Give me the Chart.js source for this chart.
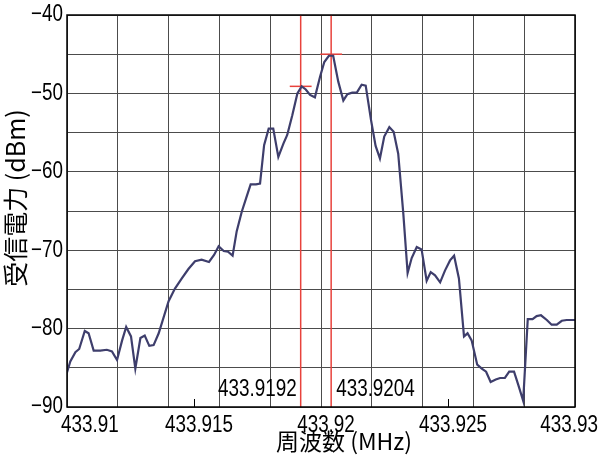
<!DOCTYPE html>
<html>
<head>
<meta charset="utf-8">
<script src="https://cdn.jsdelivr.net/npm/chart.js@4/dist/chart.umd.min.js"></script>
<style>
  html, body { margin: 0; padding: 0; background: #fff; }
  #c { display: block; }
</style>
</head>
<body>
<canvas id="c" width="601" height="459"></canvas>
<script>
// Received power spectrum around 433.92 MHz
const freqMHz = [
  433.91000, 433.91013, 433.91033, 433.91048, 433.91070, 433.91085, 433.91105, 433.91131,
  433.91157, 433.91177, 433.91197, 433.91217, 433.91233, 433.91252, 433.91269, 433.91289,
  433.91306, 433.91324, 433.91341, 433.91361, 433.91400, 433.91425, 433.91452, 433.91478,
  433.91504, 433.91530, 433.91559, 433.91579, 433.91597, 433.91617, 433.91634, 433.91652,
  433.91668, 433.91688, 433.91705, 433.91723, 433.91744, 433.91760, 433.91776, 433.91794,
  433.91812, 433.91832, 433.91852, 433.91867, 433.91887, 433.91907, 433.91924, 433.91940,
  433.91957, 433.91976, 433.91996, 433.92013, 433.92031, 433.92048, 433.92068, 433.92088,
  433.92104, 433.92123, 433.92141, 433.92160, 433.92176, 433.92197, 433.92215, 433.92232,
  433.92249, 433.92269, 433.92286, 433.92304, 433.92324, 433.92341, 433.92357, 433.92377,
  433.92396, 433.92416, 433.92432, 433.92449, 433.92469, 433.92488, 433.92508, 433.92524,
  433.92543, 433.92563, 433.92577, 433.92593, 433.92615, 433.92633, 433.92650, 433.92668,
  433.92688, 433.92705, 433.92724, 433.92741, 433.92760, 433.92777, 433.92796, 433.92814,
  433.92833, 433.92849, 433.92866, 433.92889, 433.92908, 433.92928, 433.92948, 433.92967,
  433.93000
];
const powerDbm = [
  -85.6, -84.2, -83.0, -82.6, -80.3, -80.6, -82.8, -82.8,
  -82.7, -82.9, -84.0, -81.5, -79.8, -81.0, -85.1, -81.2,
  -80.9, -82.2, -82.1, -80.6, -76.5, -74.9, -73.6, -72.4,
  -71.4, -71.2, -71.5, -70.6, -69.5, -70.1, -70.2, -70.7,
  -67.6, -65.1, -63.4, -61.6, -61.6, -61.5, -56.6, -54.5,
  -54.5, -58.1, -56.4, -55.3, -52.8, -50.0, -49.1, -49.5,
  -50.2, -50.5, -47.9, -46.0, -45.2, -45.2, -48.5, -50.9,
  -50.1, -49.9, -49.9, -48.9, -49.0, -53.4, -56.7, -58.3,
  -55.5, -54.3, -54.9, -57.7, -65.3, -72.9, -71.0, -69.6,
  -69.9, -73.9, -72.8, -73.2, -74.1, -72.6, -71.3, -70.7,
  -73.6, -81.0, -80.6, -81.5, -84.6, -85.1, -85.5, -86.8,
  -86.5, -86.3, -86.3, -85.5, -85.5, -87.2, -89.2, -78.8,
  -78.8, -78.4, -78.3, -78.9, -79.5, -79.5, -79.0, -78.9,
  -78.9
];

// Marker frequencies and the levels where they sit
const markerFreqs = [433.9192, 433.9204];
const markerLevels = [-49.1, -45.0];

// Axis ranges and labelled ticks
const xTickValues = [433.91, 433.915, 433.92, 433.925, 433.93];
const yTickValues = [-90, -80, -70, -60, -50, -40];
const X_MIN = 433.91, X_MAX = 433.93;
const Y_MIN = -90, Y_MAX = -40;

const xTitle = '周波数 (MHz)';
const yTitle = '受信電力 (dBm)';

const NUM_FONT = '"Liberation Sans", Arial, sans-serif';
const NARROW = 0.82; // horizontal squeeze for the condensed numeric face
const CJK_FONT = '"Noto Sans CJK JP", "Noto Sans", sans-serif';
const GRID = '#4c4c4c';
const RED = '#e8423c';
const MARKER_HALF = 0.00043; // half width of marker cross-bar, MHz

const curve = freqMHz.map((f, i) => ({ x: f, y: powerDbm[i] }));

const markerSets = [];
markerFreqs.forEach((f, i) => {
  markerSets.push({
    data: [{ x: f, y: Y_MIN }, { x: f, y: Y_MAX }],
    borderColor: RED, borderWidth: 1.5, pointRadius: 0, order: 1
  });
  markerSets.push({
    data: [{ x: f - MARKER_HALF, y: markerLevels[i] }, { x: f + MARKER_HALF, y: markerLevels[i] }],
    borderColor: RED, borderWidth: 1.5, pointRadius: 0, order: 1
  });
});

// Condensed numeric text: left edge is computed from the requested alignment
function narrowText(ctx, text, x, y, align, size) {
  ctx.save();
  ctx.font = size + 'px ' + NUM_FONT;
  ctx.textAlign = 'left';
  ctx.textBaseline = 'middle';
  const w = ctx.measureText(text).width * NARROW;
  let left = x;
  if (align === 'right') left = x - w;
  else if (align === 'center') left = x - w / 2;
  ctx.translate(left, y);
  ctx.scale(NARROW, 1);
  ctx.fillText(text, 0, 0);
  ctx.restore();
  return w;
}

// Frame, tick labels, marker labels and axis titles
const decorations = {
  id: 'decorations',
  afterDraw(chart) {
    const { ctx, chartArea: a } = chart;
    const xs = chart.scales.x;
    const ys = chart.scales.y;
    ctx.save();
    ctx.strokeStyle = '#000';
    ctx.lineWidth = 1.5;
    ctx.strokeRect(a.left, a.top, a.right - a.left, a.bottom - a.top);
    ctx.fillStyle = '#000';

    // x tick labels, kept inside the figure
    ctx.font = '23px ' + NUM_FONT;
    xs.ticks.forEach(t => {
      const label = String(Number(t.value.toFixed(3)));
      const w = ctx.measureText(label).width * NARROW;
      let left = xs.getPixelForValue(t.value) + 5 - w / 2;
      if (left < 61) left = 61;
      if (left + w > 598) left = 598 - w;
      narrowText(ctx, label, left, a.bottom + 19, 'left', 23);
    });

    // y tick labels
    yTickValues.forEach(v => {
      narrowText(ctx, '\u2212' + Math.abs(v), a.left - 4, ys.getPixelForValue(v), 'right', 23);
    });

    // marker frequency labels
    markerFreqs.forEach((f, i) => {
      const px = xs.getPixelForValue(f);
      const label = f.toFixed(4);
      if (i === 0) narrowText(ctx, label, px - 4, a.bottom - 17, 'right', 23);
      else narrowText(ctx, label, px + 5, a.bottom - 17, 'left', 23);
    });

    // axis titles
    ctx.font = '23px ' + CJK_FONT;
    ctx.textAlign = 'center';
    ctx.textBaseline = 'middle';
    ctx.fillText(xTitle, 344, 441);
    ctx.translate(15, 198);
    ctx.rotate(-Math.PI / 2);
    ctx.font = '25px ' + CJK_FONT;
    ctx.fillText(yTitle, 0, 0);
    ctx.restore();
  }
};

new Chart(document.getElementById('c'), {
  type: 'line',
  data: {
    datasets: [
      {
        data: curve, borderColor: '#3e3e6c', borderWidth: 2.2,
        pointRadius: 0, tension: 0, order: 0
      },
      ...markerSets
    ]
  },
  options: {
    responsive: false,
    animation: false,
    devicePixelRatio: 1,
    layout: { padding: { left: 0, top: 15, right: 26, bottom: 0 } },
    plugins: { legend: { display: false }, tooltip: { enabled: false } },
    scales: {
      x: {
        type: 'linear', position: 'bottom', min: X_MIN, max: X_MAX,
        afterBuildTicks: s => { s.ticks = xTickValues.map(v => ({ value: v })); },
        afterFit: s => { s.height = 52; s.paddingLeft = 0; s.paddingRight = 0; },
        ticks: { display: false },
        grid: { drawOnChartArea: false, drawTicks: true, tickLength: -8, color: '#000', lineWidth: 1 },
        border: { display: false }
      },
      xg: {
        type: 'linear', position: 'bottom', min: X_MIN, max: X_MAX,
        afterBuildTicks: s => {
          s.ticks = Array.from({ length: 11 }, (_, i) => ({ value: X_MIN + i * (X_MAX - X_MIN) / 10 }));
        },
        afterFit: s => { s.height = 0; s.paddingLeft = 0; s.paddingRight = 0; },
        ticks: { display: false },
        grid: { color: GRID, lineWidth: 1, drawTicks: false },
        border: { display: false }
      },
      y: {
        type: 'linear', min: Y_MIN, max: Y_MAX,
        afterBuildTicks: s => {
          s.ticks = Array.from({ length: 11 }, (_, i) => ({ value: Y_MIN + i * 5 }));
        },
        afterFit: s => { s.width = 67; s.paddingTop = 0; s.paddingBottom = 0; },
        ticks: { display: false },
        grid: { color: GRID, lineWidth: 1, drawTicks: false },
        border: { display: false }
      }
    }
  },
  plugins: [decorations]
});
</script>
</body>
</html>
